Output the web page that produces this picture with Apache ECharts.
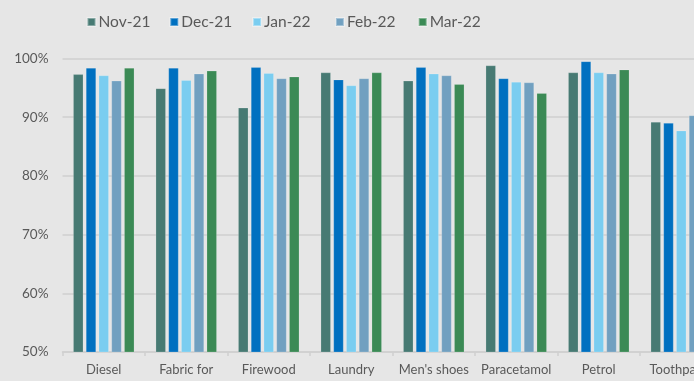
<!DOCTYPE html>
<html>
<head>
<meta charset="utf-8">
<script src="https://cdn.jsdelivr.net/npm/echarts@6/dist/echarts.min.js"></script>
<style>
html,body{margin:0;padding:0;overflow:hidden;background:#e6e6e6;}
#c{width:760px;height:381px;}
</style>
</head>
<body>
<div id="c"></div>
<script>
const categories = ['Diesel','Fabric for','Firewood','Laundry',"Men's shoes",'Paracetamol','Petrol','Toothpaste'];
const seriesNames = ['Nov-21','Dec-21','Jan-22','Feb-22','Mar-22'];
const nov21 = [97.3, 94.9, 91.6, 97.6, 96.2, 98.8, 97.6, 89.2];
const dec21 = [98.4, 98.4, 98.5, 96.4, 98.5, 96.6, 99.5, 89.0];
const jan22 = [97.1, 96.3, 97.5, 95.4, 97.4, 96.0, 97.6, 87.7];
const feb22 = [96.2, 97.4, 96.6, 96.6, 97.1, 95.9, 97.4, 90.3];
const mar22 = [98.4, 97.9, 96.9, 97.6, 95.6, 94.1, 98.1, 89.5];
const colors = ['#477a73','#0070c0','#7acdf0','#71a0c0','#3b8a55'];
const yTicks = [50, 60, 70, 80, 90, 100];

const data = [nov21, dec21, jan22, feb22, mar22];
const chart = echarts.init(document.getElementById('c'));
const font = 'Lato, "Open Sans", sans-serif';
chart.setOption({
  backgroundColor: '#e6e6e6',
  animation: false,
  legend: seriesNames.map((n, i) => ({
    top: 9, left: 81.5 + i * 82.8, padding: 5,
    itemWidth: 8, itemHeight: 8,
    icon: 'rect',
    textStyle: {color: '#595959', fontSize: 15.5, fontFamily: font, padding: [0,0,0,-2]},
    data: [n]
  })),
  grid: {left: 62.5, right: 37.5, top: 58.5, bottom: 29, containLabel: false},
  xAxis: {
    type: 'category', data: categories,
    axisLine: {lineStyle: {color: '#cfcfcf', width: 1.5}},
    axisTick: {show: true, length: 4, lineStyle: {color: '#cfcfcf', width: 1.5}},
    axisLabel: {color: '#595959', fontSize: 13, fontFamily: font, margin: 11, interval: 0}
  },
  yAxis: {
    type: 'value', min: yTicks[0], max: yTicks[yTicks.length-1], interval: 10,
    axisLine: {show: false}, axisTick: {show: false},
    splitLine: {lineStyle: {color: '#d5d5d5', width: 2}},
    axisLabel: {color: '#595959', fontSize: 13.5, fontFamily: font, margin: 14, formatter: v => v + '%'}
  },
  series: seriesNames.map((n, i) => ({
    name: n, type: 'bar', data: data[i],
    barGap: '27%', barCategoryGap: '26%',
    itemStyle: {color: colors[i], borderColor: 'rgba(255,255,255,0.35)', borderWidth: 0.5}
  }))
});
</script>
</body>
</html>
